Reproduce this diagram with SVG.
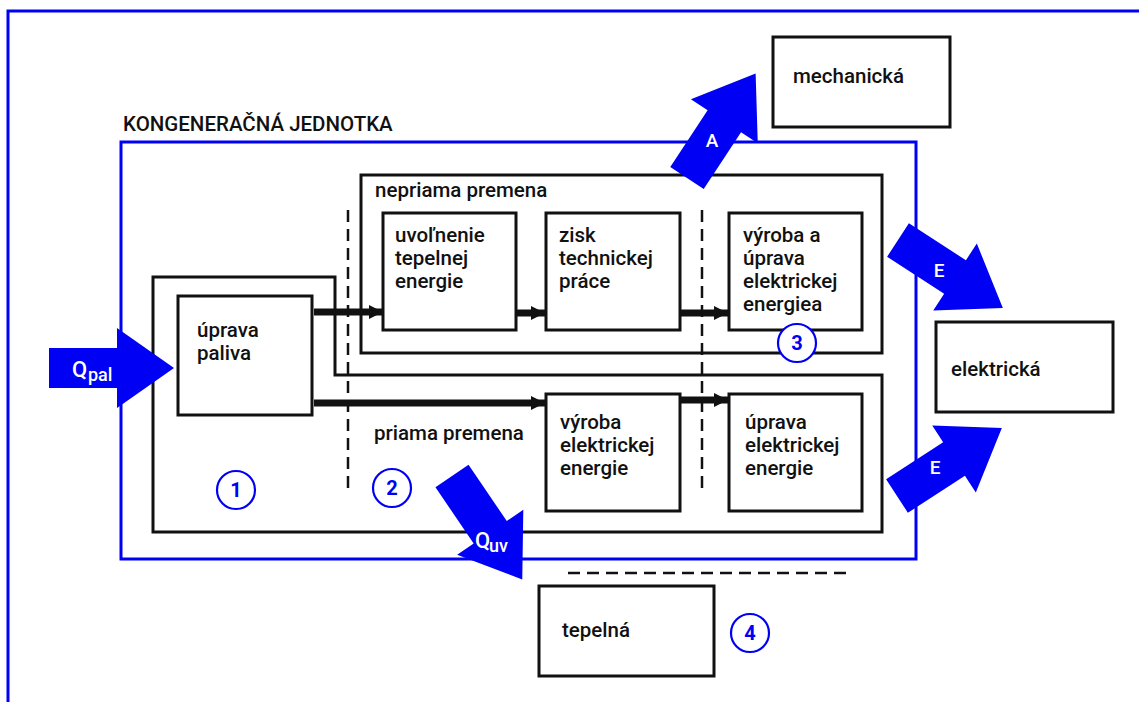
<svg xmlns="http://www.w3.org/2000/svg" width="1139" height="702" viewBox="0 0 1139 702">
<style>
.t{font-family:Roboto,"Liberation Sans",sans-serif;font-size:20.5px;font-weight:500;fill:#111}
.bx{fill:#fff;stroke:#111;stroke-width:3}
.gb{fill:none;stroke:#111;stroke-width:3}
.blu{fill:none;stroke:#0000f5;stroke-width:3}
.ba{fill:#0000f5}
.wt{font-family:Roboto,"Liberation Sans",sans-serif;font-weight:500;fill:#fff}
.cir{fill:#fff;stroke:#0000f5;stroke-width:2.2}
.cn{font-family:Roboto,"Liberation Sans",sans-serif;font-size:20px;font-weight:700;fill:#0000f5;text-anchor:middle}
.dash{stroke:#111;stroke-width:2.5;stroke-dasharray:12 7;fill:none}
.arr{stroke:#111;stroke-width:7;fill:none;marker-end:url(#ah)}
</style>
<defs>
<marker id="ah" markerUnits="userSpaceOnUse" markerWidth="16" markerHeight="16" refX="14" refY="8" orient="auto">
<path d="M0,1 L14,8 L0,15 Z" fill="#111"/>
</marker>
<polygon id="bigarrow" points="0,-20 68,-20 68,-40 125,0 68,40 68,20 0,20"/>
</defs>
<rect width="1139" height="702" fill="#fff"/>
<g id="frame">
<path d="M8,702 L8,11 L1139,11" class="blu"/>
</g>
<g id="kj">
<rect x="121" y="142" width="795" height="417" class="blu"/>
<text x="123" y="131" class="t" font-size="20.5">KONGENERAČNÁ JEDNOTKA</text>
</g>
<g id="group1">
<path d="M153,277 L335,277 L335,375 L882,375 L882,532 L153,532 Z" class="gb"/>
</g>
<g id="nepriama">
<rect x="361" y="175" width="521" height="178" class="gb"/>
<text x="375" y="197" class="t">nepriama premena</text>
</g>
<text id="priama" x="374" y="440" class="t">priama premena</text>
<g id="dashes">
<line x1="348" y1="210" x2="348" y2="492" class="dash"/>
<line x1="702" y1="210" x2="702" y2="492" class="dash"/>
<line x1="568" y1="573" x2="846" y2="573" class="dash" stroke-width="3" stroke-dasharray="13 7"/>
</g>
<g id="uprava-paliva">
<rect x="178" y="296" width="134" height="119" class="bx"/>
<text x="197" y="337" class="t">úprava</text>
<text x="197" y="360" class="t">paliva</text>
</g>
<g id="uvolnenie">
<rect x="383" y="213" width="133" height="117" class="bx"/>
<text x="395" y="242" class="t">uvoľnenie</text>
<text x="395" y="265" class="t">tepelnej</text>
<text x="395" y="288" class="t">energie</text>
</g>
<g id="zisk">
<rect x="546" y="213" width="134" height="117" class="bx"/>
<text x="559" y="242" class="t">zisk</text>
<text x="559" y="265" class="t">technickej</text>
<text x="559" y="288" class="t">práce</text>
</g>
<g id="vyroba-uprava">
<rect x="729" y="213" width="133" height="117" class="bx"/>
<text x="743" y="242" class="t">výroba a</text>
<text x="743" y="265" class="t">úprava</text>
<text x="743" y="288" class="t">elektrickej</text>
<text x="743" y="311" class="t">energiea</text>
</g>
<g id="vyroba-el">
<rect x="546" y="394" width="134" height="117" class="bx"/>
<text x="560" y="429" class="t">výroba</text>
<text x="560" y="452" class="t">elektrickej</text>
<text x="560" y="475" class="t">energie</text>
</g>
<g id="uprava-el">
<rect x="729" y="394" width="133" height="117" class="bx"/>
<text x="745" y="429" class="t">úprava</text>
<text x="745" y="452" class="t">elektrickej</text>
<text x="745" y="475" class="t">energie</text>
</g>
<g id="mechanicka">
<rect x="773" y="37" width="177" height="90" class="bx"/>
<text x="793" y="83" class="t">mechanická</text>
</g>
<g id="elektricka">
<rect x="936" y="322" width="177" height="90" class="bx"/>
<text x="951" y="376" class="t">elektrická</text>
</g>
<g id="tepelna">
<rect x="539" y="586" width="175" height="90" class="bx"/>
<text x="562" y="637" class="t">tepelná</text>
</g>
<g id="connectors">
<line x1="314" y1="312" x2="383" y2="312" class="arr"/>
<line x1="314" y1="403" x2="545" y2="403" class="arr"/>
<line x1="517" y1="313" x2="545" y2="313" class="arr"/>
<line x1="681" y1="313" x2="728" y2="313" class="arr"/>
<line x1="681" y1="400" x2="728" y2="400" class="arr"/>
<g id="arrow-qpal">
<use href="#bigarrow" class="ba" transform="translate(49,368)"/>
<text x="72" y="377" class="wt" font-size="22">Q</text>
<text x="88" y="381" class="wt" font-size="18">pal</text>
</g>
<g id="arrow-a">
<use href="#bigarrow" class="ba" transform="translate(687,178) rotate(-56.7)"/>
<text x="712" y="147" class="wt" font-size="19" text-anchor="middle">A</text>
</g>
<g id="arrow-e1">
<use href="#bigarrow" class="ba" transform="translate(898,240) rotate(33)"/>
<text x="939" y="277" class="wt" font-size="19" text-anchor="middle">E</text>
</g>
<g id="arrow-e2">
<use href="#bigarrow" class="ba" transform="translate(897,496) rotate(-33)"/>
<text x="935" y="474" class="wt" font-size="19" text-anchor="middle">E</text>
</g>
<g id="arrow-quv">
<use href="#bigarrow" class="ba" transform="translate(452,476) rotate(55.8)"/>
<text x="475" y="548" class="wt" font-size="22">Q</text>
<text x="489" y="552" class="wt" font-size="18">uv</text>
</g>
</g>
<g id="c1"><circle cx="236" cy="490" r="19" class="cir"/><text x="236" y="497" class="cn">1</text></g>
<g id="c2"><circle cx="392" cy="488" r="19" class="cir"/><text x="392" y="495" class="cn">2</text></g>
<g id="c3"><circle cx="797" cy="343" r="19" class="cir"/><text x="797" y="350" class="cn">3</text></g>
<g id="c4"><circle cx="750" cy="633" r="19" class="cir"/><text x="750" y="640" class="cn">4</text></g>
</svg>
